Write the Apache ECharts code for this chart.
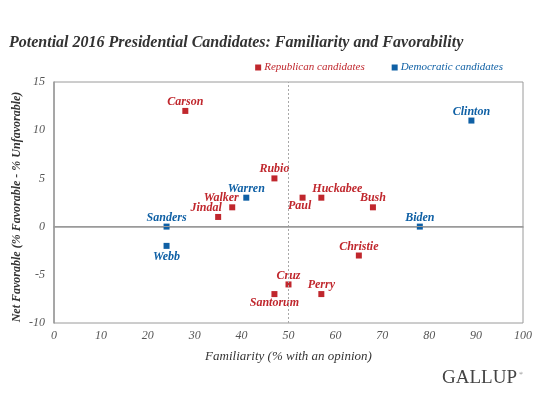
<!DOCTYPE html>
<html><head><meta charset="utf-8">
<script src="https://cdn.jsdelivr.net/npm/echarts@6/dist/echarts.min.js"></script>
<style>html,body{margin:0;padding:0;background:#fff}#c{width:542px;height:413px}</style>
</head><body><div id="c"></div>
<script>
// Data
const repNames = ['Carson','Jindal','Walker','Rubio','Paul','Huckabee','Bush','Santorum','Cruz','Perry','Christie'];
const repFamiliarity = [28,35,38,47,53,57,68,47,50,57,65];
const repNet = [12,1,2,5,3,3,2,-7,-6,-7,-3];
const demNames = ['Clinton','Warren','Sanders','Biden','Webb'];
const demFamiliarity = [89,41,24,78,24];
const demNet = [11,3,0,0,-2];
const xTicks = [0,10,20,30,40,50,60,70,80,90,100];
const yTicks = [-10,-5,0,5,10,15];

// Label placement (style, kept separate from data)
const labelPlace = {
  Jindal:{position:'top',offset:[-12,0]},
  Walker:{position:'top',offset:[-11,0]},
  Huckabee:{position:'top',offset:[16,0]},
  Paul:{position:'bottom',offset:[-3,-1]},
  Santorum:{position:'bottom',offset:[0,0]},
  Webb:{position:'bottom',offset:[0,2]}
};

const RED = '#c0272d', BLUE = '#0f60a5';
const SERIF = '"Liberation Serif", "DejaVu Serif", serif';

function build(names, xs, ys) {
  return names.map((n,i)=>{
    const p = labelPlace[n] || {position:'top',offset:[0,0]};
    return {name:n, value:[xs[i], ys[i]], label:{position:p.position, offset:p.offset}};
  });
}

const chart = echarts.init(document.getElementById('c'), null, {renderer:'canvas'});
const labelStyle = (color)=>({show:true, formatter:'{b}', color:color, fontFamily:SERIF,
  fontStyle:'italic', fontWeight:'bold', fontSize:12, distance:0});

chart.setOption({
  animation:false,
  backgroundColor:'#fff',
  title:{text:'Potential 2016 Presidential Candidates: Familiarity and Favorability',
    left:4, top:30, textStyle:{fontFamily:SERIF, fontStyle:'italic', fontWeight:'bold', fontSize:16, color:'#333'}},
  legend:{right:34, top:57, itemWidth:6, itemHeight:6, itemGap:27, icon:'rect',
    textStyle:{fontFamily:SERIF, fontStyle:'italic', fontSize:11, padding:[0,0,0,-2]},
    data:[{name:'Republican candidates', textStyle:{color:RED}},{name:'Democratic candidates', textStyle:{color:BLUE}}]},
  grid:{left:54, right:19, top:82, bottom:90, show:true, borderColor:'#9a9a9a', borderWidth:1},
  xAxis:{type:'value', min:xTicks[0], max:xTicks[xTicks.length-1], interval:10,
    name:'Familiarity (% with an opinion)', nameLocation:'middle', nameGap:27,
    nameTextStyle:{fontFamily:SERIF, fontStyle:'italic', fontSize:13, color:'#333'},
    axisLine:{lineStyle:{color:'#9a9a9a', width:1.5}}, axisTick:{show:false}, splitLine:{show:false},
    axisLabel:{fontFamily:SERIF, fontStyle:'italic', fontSize:12, color:'#555', margin:7,
      formatter:v=>xTicks.includes(v)?String(v):''}},
  yAxis:{type:'value', min:yTicks[0], max:yTicks[yTicks.length-1], interval:5,
    axisLine:{show:true, onZero:false, lineStyle:{color:'#9a9a9a', width:1.5}}, axisTick:{show:false}, splitLine:{show:false},
    axisLabel:{fontFamily:SERIF, fontStyle:'italic', fontSize:12, color:'#555', margin:9,
      formatter:v=>yTicks.includes(v)?String(v):''}},
  series:[
    {name:'Republican candidates', type:'scatter', symbol:'rect', symbolSize:6, itemStyle:{color:RED, opacity:1},
      label:labelStyle(RED), data:build(repNames, repFamiliarity, repNet), z:3,
      markLine:{silent:true, symbol:'none', label:{show:false},
        data:[{xAxis:50, lineStyle:{type:[2,2], color:'#a8a8a8', width:1}},
              {yAxis:0, lineStyle:{type:'solid', color:'#9a9a9a', width:1}}]}},
    {name:'Democratic candidates', type:'scatter', symbol:'rect', symbolSize:6, itemStyle:{color:BLUE, opacity:1},
      label:labelStyle(BLUE), data:build(demNames, demFamiliarity, demNet), z:3}
  ],
  graphic:[
    {type:'text', x:17, y:207, rotation:Math.PI/2,
      style:{text:'Net Favorable (% Favorable - % Unfavorable)', fontFamily:SERIF, fontStyle:'italic', fontWeight:'bold',
        fontSize:12, fill:'#333', textAlign:'center', textVerticalAlign:'middle'}},
    {type:'text', left:442, top:369, style:{text:'GALLUP', fontFamily:SERIF, fontSize:19, fill:'#444'}},
    {type:'text', left:519, top:371, style:{text:'®', fontFamily:SERIF, fontSize:5, fill:'#444'}}]
});
</script></body></html>
